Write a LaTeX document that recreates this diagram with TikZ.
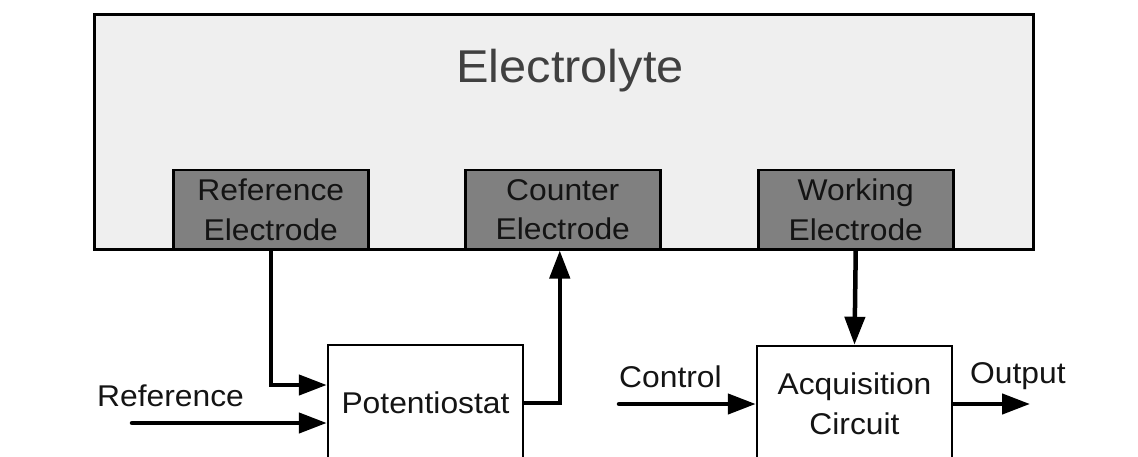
\documentclass[tikz,border=0pt]{standalone}
\usepackage{fontspec}
\setmainfont{Liberation Sans}[FakeStretch=1.06]
\usetikzlibrary{arrows.meta}
\definecolor{elyfill}{HTML}{EFEFEF}
\definecolor{elecfill}{HTML}{808080}
\definecolor{elytext}{HTML}{404040}
\begin{document}
\begin{tikzpicture}[x=1pt,y=-1pt,
  txt/.style={font=\fontsize{30}{39.5}\selectfont, text=black!92},
  box/.style={draw=black, line width=2.5pt, inner sep=0pt, align=center, txt},
  elec/.style={box, fill=elecfill, minimum width=195pt, minimum height=79pt, anchor=north west},
  blk/.style={box, fill=white, minimum width=195pt, minimum height=116pt},
  conn/.style={line width=4.5pt, line cap=round, -{Triangle[length=28pt,width=20pt]}}]
\useasboundingbox (0,0) rectangle (1138,457);
\clip (0,0) rectangle (1138,457);
\fill[white] (0,0) rectangle (1138,457);
% electrolyte
\node[draw=black, line width=3pt, fill=elyfill, minimum width=939pt, minimum height=235pt, anchor=north west, inner sep=0pt] (ely) at (93,13) {};
\node[font=\fontsize{46}{50}\selectfont, text=elytext] (elytxt) at (570,71) {Electrolyte};
% electrodes
\node[elec] (ref) at (172,169) {Reference\\Electrode};
\node[elec] (ctr) at (464,169) {Counter\\Electrode};
\node[elec] (wrk) at (757,169) {Working\\Electrode};
% blocks
\node[blk] (pot) at (425.5,403) {Potentiostat};
\node[blk] (acq) at (854.5,404) {Acquisition\\Circuit};
% labels
\node[txt, anchor=base west, inner sep=0pt] (reflab) at (97,406) {Reference};
\node[txt, anchor=base west, inner sep=0pt] (ctrllab) at (619,387) {Control};
\node[txt, anchor=base west, inner sep=0pt] (outlab) at (970,383) {Output};
% connectors
\coordinate (refin) at (132,423);
\coordinate (ctrlin) at (619,404);
\coordinate (outend) at (1030,404);
\draw[conn] (ref.south) |- ([yshift=18pt]pot.west);
\draw[conn] (refin) -- (refin -| pot.west);
\draw[conn] (pot.east) -| ([xshift=-3pt]ctr.south);
\draw[conn] (wrk.south) -- (acq.north);
\draw[conn] (ctrlin) -- (acq.west);
\draw[conn] (acq.east) -- (outend);
\end{tikzpicture}
\end{document}
